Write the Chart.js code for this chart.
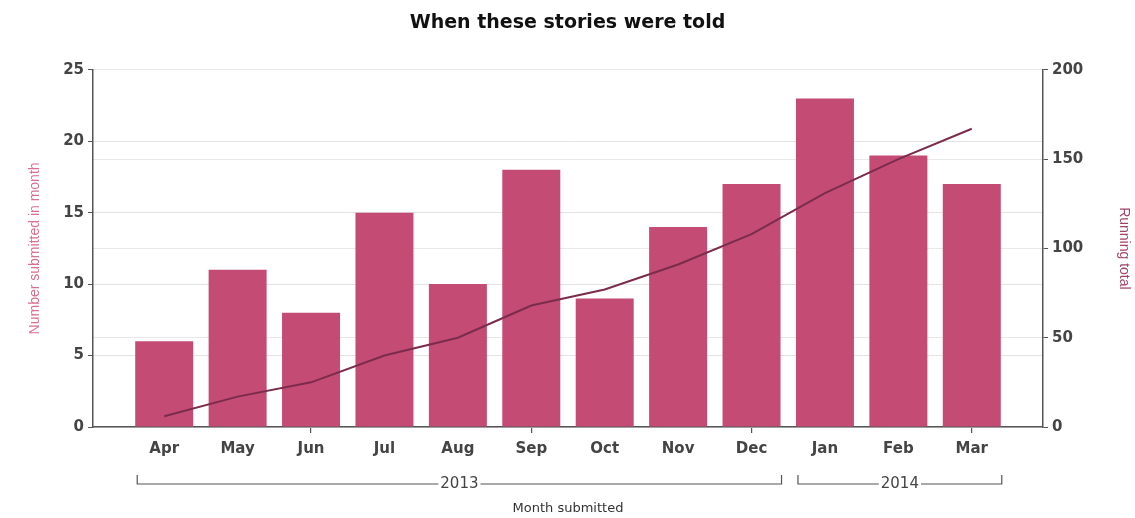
<!DOCTYPE html>
<html>
<head>
<meta charset="utf-8">
<title>When these stories were told</title>
<script src="https://cdn.jsdelivr.net/npm/chart.js@4/dist/chart.umd.min.js"></script>
<style>
  html, body { margin: 0; padding: 0; background: #fff; }
  #wrap { width: 1135px; height: 518px; }
</style>
</head>
<body>
<div id="wrap"><canvas id="storiesChart" width="1135" height="518"></canvas></div>
<script>
// Data
const months = ["Apr", "May", "Jun", "Jul", "Aug", "Sep", "Oct", "Nov", "Dec", "Jan", "Feb", "Mar"];
const submitted = [6, 11, 8, 15, 10, 18, 9, 14, 17, 23, 19, 17];
const runningTotal = [6, 17, 25, 40, 50, 68, 77, 91, 108, 131, 150, 167];
const years = ["2013", "2014"];
const yearFirstMonth = [0, 9];   // index into months
const yearLastMonth = [8, 11];
const quarterTicks = [2, 5, 8, 11]; // months with a tick mark on the x axis

const FONT = "'DejaVu Sans', Verdana, sans-serif";
const BAR_COLOR = "#c44b73";
const LINE_COLOR = "#7b2c4c";
const AXIS_COLOR = "#555";

// draws the 2013 / 2014 brackets under the month labels
const yearBrackets = {
  id: "yearBrackets",
  afterDraw(chart) {
    const ctx = chart.ctx;
    const bars = chart.getDatasetMeta(0).data;
    const y = chart.scales.x.top + 57;
    ctx.save();
    ctx.strokeStyle = AXIS_COLOR;
    ctx.lineWidth = 1.2;
    ctx.fillStyle = "#444";
    ctx.font = "15px " + FONT;
    ctx.textAlign = "center";
    ctx.textBaseline = "middle";
    years.forEach((yr, i) => {
      const a = bars[yearFirstMonth[i]], b = bars[yearLastMonth[i]];
      const x1 = a.x - a.width / 2 + 2;
      const x2 = b.x + b.width / 2 + 1;
      const mid = (x1 + x2) / 2;
      const half = ctx.measureText(yr).width / 2 + 2;
      ctx.beginPath();
      ctx.moveTo(x1, y - 9);
      ctx.lineTo(x1, y);
      ctx.lineTo(mid - half, y);
      ctx.moveTo(mid + half, y);
      ctx.lineTo(x2, y);
      ctx.lineTo(x2, y - 9);
      ctx.stroke();
      ctx.fillText(yr, mid, y);
    });
    ctx.restore();
  }
};

const ctx = document.getElementById("storiesChart").getContext("2d");

new Chart(ctx, {
  type: "bar",
  data: {
    datasets: [
      {
        type: "bar",
        label: "Number submitted in month",
        data: submitted.map((v, i) => ({ x: i, y: v })),
        backgroundColor: BAR_COLOR,
        borderWidth: 0,
        barPercentage: 0.79,
        categoryPercentage: 1,
        xAxisID: "x",
        yAxisID: "y",
        order: 2
      },
      {
        type: "line",
        label: "Running total",
        data: runningTotal.map((v, i) => ({ x: i, y: v })),
        borderColor: LINE_COLOR,
        borderWidth: 2,
        pointRadius: 0,
        tension: 0,
        fill: false,
        xAxisID: "x",
        yAxisID: "y1",
        order: 1
      }
    ]
  },
  options: {
    responsive: false,
    animation: false,
    layout: { padding: 0 },
    plugins: {
      legend: { display: false },
      tooltip: { enabled: false },
      title: {
        display: true,
        text: "When these stories were told",
        color: "#111",
        font: { family: FONT, size: 19, weight: "bold" },
        padding: { top: 12, bottom: 35 }
      }
    },
    scales: {
      x: {
        type: "linear",
        position: "bottom",
        min: -0.97,
        max: 11.97,
        offset: false,
        afterBuildTicks: s => {
          s.ticks = months.map((m, i) => ({ value: i }));
        },
        afterFit: s => { s.height = 91; },
        ticks: {
          autoSkip: false,
          maxRotation: 0,
          padding: 7,
          color: "#444",
          font: { family: FONT, size: 15, weight: "bold" },
          callback: v => months[v]
        },
        grid: {
          offset: false,
          drawOnChartArea: false,
          tickLength: 6,
          color: c => (c.tick && quarterTicks.includes(c.tick.value)) ? AXIS_COLOR : "rgba(0,0,0,0)",
          lineWidth: 1.2
        },
        border: { color: AXIS_COLOR, width: 1.5 },
        title: {
          display: true,
          text: "Month submitted",
          color: "#333",
          font: { family: FONT, size: 13 },
          padding: { top: 3, bottom: 2 }
        }
      },
      y: {
        position: "left",
        min: 0,
        max: 25,
        afterFit: s => { s.width = 93; },
        ticks: {
          stepSize: 5,
          padding: 4,
          color: "#444",
          font: { family: FONT, size: 15, weight: "bold" }
        },
        grid: {
          color: "#e2e2e2",
          tickColor: AXIS_COLOR,
          tickLength: 5
        },
        border: { color: AXIS_COLOR, width: 1.5 },
        title: {
          display: true,
          text: "Number submitted in month",
          color: "#d9708f",
          font: { family: "'Liberation Sans Narrow', 'Liberation Sans', sans-serif", size: 14 },
          padding: { top: 27, bottom: 0 }
        }
      },
      y1: {
        position: "right",
        min: 0,
        max: 200,
        afterFit: s => { s.width = 92; },
        ticks: {
          stepSize: 50,
          padding: 4,
          color: "#444",
          font: { family: FONT, size: 15, weight: "bold" }
        },
        grid: {
          color: "#e8e8e8",
          tickColor: AXIS_COLOR,
          tickLength: 5
        },
        border: { color: AXIS_COLOR, width: 1.5 },
        title: {
          display: true,
          text: "Running total",
          color: "#a24668",
          font: { family: "'Liberation Sans Narrow', 'Liberation Sans', sans-serif", size: 14 },
          padding: { top: 3, bottom: 0 }
        }
      }
    }
  },
  plugins: [yearBrackets]
});
</script>
</body>
</html>
